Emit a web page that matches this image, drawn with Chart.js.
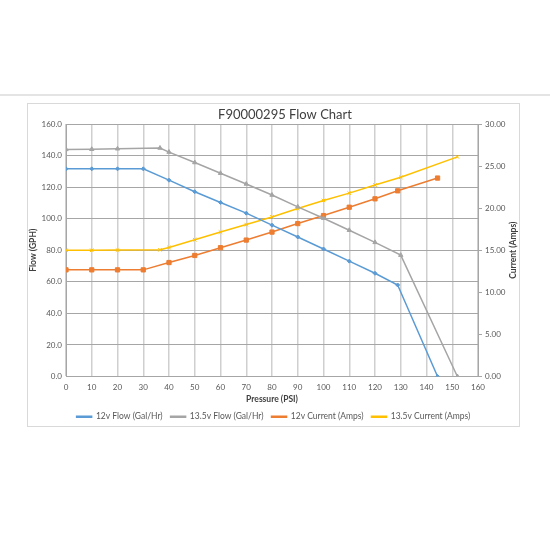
<!DOCTYPE html>
<html>
<head>
<meta charset="utf-8">
<script src="https://cdn.jsdelivr.net/npm/chart.js@4"></script>
<style>
  html, body { margin: 0; padding: 0; background: #fff; }
  body { width: 550px; height: 550px; position: relative; overflow: hidden; }
  #rule { position: absolute; left: 0; top: 94px; width: 550px; height: 2px; background: #e4e4e4; }
  #box { position: absolute; left: 27px; top: 103px; width: 493px; height: 324px;
         border: 1px solid #d9d9d9; box-sizing: border-box; }
  #wrap { position: absolute; left: 28px; top: 104px; width: 491px; height: 327px; }
  #wrap canvas { display: block; }
</style>
</head>
<body>
<div id="rule"></div>
<div id="box"></div>
<div id="wrap"><canvas id="flowChart"></canvas></div>
<script>
// valori
const pressure12 = [0, 10, 20, 30, 40, 50, 60, 70, 80, 90, 100, 110, 120, 128.8, 144.3];
const flow12 = [131.6, 131.6, 131.6, 131.6, 124.4, 117.1, 110.3, 103.5, 95.9, 88.4, 80.8, 73.1, 65.4, 58.0, 0];
const current12 = [12.67, 12.67, 12.67, 12.67, 13.54, 14.38, 15.30, 16.21, 17.16, 18.17, 19.12, 20.11, 21.11, 22.06, 23.58];

const pressure135 = [0, 10, 20, 36.5, 40, 50, 60, 70, 80, 90, 100, 110, 120, 130, 152];
const flow135 = [143.9, 144.0, 144.3, 144.8, 142.2, 135.6, 128.8, 122.0, 115.0, 107.5, 100.3, 92.7, 85.0, 76.9, 0];
const current135 = [15.0, 15.0, 15.02, 15.05, 15.33, 16.25, 17.16, 18.05, 18.96, 19.96, 20.92, 21.79, 22.75, 23.67, 26.09];

const seriesNames = ['12v Flow (Gal/Hr)', '13.5v Flow (Gal/Hr)', '12v Current (Amps)', '13.5v Current (Amps)'];
const chartTitle = 'F90000295 Flow Chart';
const rightAxisTitle = 'Current (Amps)';

const FONT = 'Lato, "Noto Sans", sans-serif';

function points(xs, ys) {
    return xs.map((x, i) => ({ x: x, y: ys[i] }));
}

// titolo spostato un po' a destra come nell'originale,
// e titolo dell'asse destro letto dal basso verso l'alto
const textPlugin = {
    id: 'excelText',
    afterDraw(chart) {
        const ctx = chart.ctx;
        const area = chart.chartArea;
        ctx.save();
        ctx.font = '13px ' + FONT;
        ctx.fillStyle = '#404040';
        ctx.textAlign = 'center';
        ctx.textBaseline = 'middle';
        ctx.fillText(chartTitle, (area.left + area.right) / 2 + 13, 11);

        ctx.translate(chart.width - 6, (area.top + area.bottom) / 2);
        ctx.rotate(-Math.PI / 2);
        ctx.font = 'bold 8.5px ' + FONT;
        ctx.fillText(rightAxisTitle, 0, 0);
        ctx.restore();
    }
};

const ctx = document.getElementById('flowChart').getContext('2d');
new Chart(ctx, {
    type: 'line',
    data: {
        datasets: [{
            label: seriesNames[0],
            data: points(pressure12, flow12),
            yAxisID: 'y',
            borderColor: '#5b9bd5',
            backgroundColor: '#5b9bd5',
            borderWidth: 1.5,
            pointStyle: 'rectRot',
            pointRadius: 2,
            pointBorderWidth: 1
        }, {
            label: seriesNames[1],
            data: points(pressure135, flow135),
            yAxisID: 'y',
            borderColor: '#a5a5a5',
            backgroundColor: '#a5a5a5',
            borderWidth: 1.5,
            pointStyle: 'triangle',
            pointRadius: 2.5,
            pointBorderWidth: 1
        }, {
            label: seriesNames[2],
            data: points(pressure12, current12),
            yAxisID: 'y1',
            borderColor: '#ed7d31',
            backgroundColor: '#ed7d31',
            borderWidth: 1.5,
            pointStyle: 'rect',
            pointRadius: 3,
            pointBorderWidth: 1
        }, {
            label: seriesNames[3],
            data: points(pressure135, current135),
            yAxisID: 'y1',
            borderColor: '#ffc000',
            backgroundColor: '#ffc000',
            borderWidth: 1.5,
            pointStyle: 'crossRot',
            pointRadius: 2.5,
            pointBorderWidth: 1
        }]
    },
    options: {
        responsive: true,
        maintainAspectRatio: false,
        animation: false,
        layout: { padding: { top: 20, left: 0, right: 0, bottom: 0 } },
        plugins: {
            title: { display: false },
            tooltip: { enabled: false },
            legend: {
                position: 'bottom',
                labels: {
                    boxWidth: 15,
                    boxHeight: 1,
                    padding: 8,
                    color: '#595959',
                    font: { family: FONT, size: 8.5 }
                }
            }
        },
        scales: {
            x: {
                type: 'linear',
                min: 0,
                max: 160,
                ticks: { stepSize: 10, color: '#595959', font: { family: FONT, size: 8 }, padding: 6 },
                grid: { color: '#cfcfcf', lineWidth: 1.5, drawTicks: false },
                border: { display: true, color: '#a6a6a6' },
                title: { display: true, text: 'Pressure (PSI)', color: '#404040',
                         font: { family: FONT, size: 8.5, weight: 'bold' }, padding: { top: 2, bottom: 0 } },
                afterFit(scale) { scale.height = 28; }
            },
            y: {
                position: 'left',
                min: 0,
                max: 160,
                ticks: { stepSize: 20, color: '#595959', font: { family: FONT, size: 8 }, padding: 4,
                         callback: v => v.toFixed(1) },
                grid: { color: '#a6a6a6', lineWidth: 1, drawTicks: false },
                border: { display: true, color: '#a6a6a6' },
                title: { display: true, text: 'Flow (GPH)', color: '#404040',
                         font: { family: FONT, size: 8.5, weight: 'bold' }, padding: 0 },
                afterFit(scale) { scale.width = 38; }
            },
            y1: {
                position: 'right',
                min: 0,
                max: 30,
                ticks: { stepSize: 5, color: '#595959', font: { family: FONT, size: 8 }, padding: 3,
                         callback: v => v.toFixed(2) },
                grid: { drawOnChartArea: false, drawTicks: true, tickLength: 4, color: '#a6a6a6' },
                border: { display: true, color: '#a6a6a6' },
                afterFit(scale) { scale.width = 41; }
            }
        }
    },
    plugins: [textPlugin]
});
</script>
</body>
</html>
